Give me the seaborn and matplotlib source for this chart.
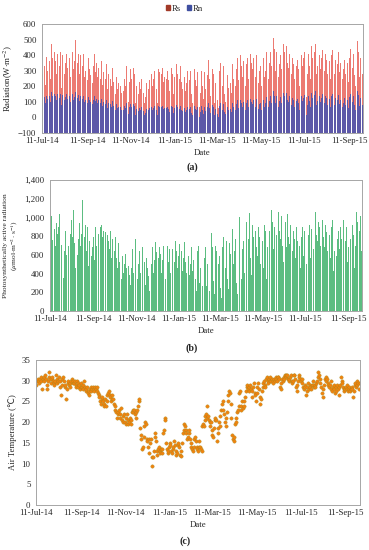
import matplotlib
matplotlib.use("Agg")
import matplotlib.pyplot as plt
import matplotlib.dates as mdates
from matplotlib.patches import Patch
from matplotlib.ticker import FuncFormatter
import numpy as np
import pandas as pd
import seaborn as sns

# Daily series, 11-Jul-2014 .. 30-Sep-2015 (one line per month)
start_date = "2014-07-11"
end_date = "2015-09-30"

rs_values = [
    280, 350, 460, 330, 210, 440, 390, 300, 180, 420, 360, 250, 400, 470, 380, 230, 310, 420, 360, 150, 280,
    410, 380, 260, 330, 420, 300, 190, 400, 360, 430, 280, 350, 490, 410, 320, 200, 450, 380, 260, 340, 470, 420, 310, 230, 360, 500, 380, 290, 350, 410, 330,
    280, 400, 360, 210, 330, 410, 380, 260, 300, 420, 350, 240, 380, 400, 310, 270, 420, 360, 220, 330, 400, 410, 290, 350, 380, 260, 320, 370, 300, 250,
    360, 330, 210, 290, 380, 310, 250, 340, 300, 180, 280, 350, 330, 250, 200, 300, 320, 230, 280, 250, 150, 260, 300, 180, 220, 310, 270, 200, 160, 240, 210,
    170, 250, 120, 200, 330, 290, 180, 100, 230, 340, 310, 250, 150, 220, 320, 280, 180, 90, 200, 300, 260, 150, 230, 120, 180, 250, 200, 110, 160, 90,
    70, 130, 220, 300, 250, 180, 240, 310, 330, 280, 200, 150, 250, 300, 330, 270, 180, 90, 240, 310, 290, 200, 150, 280, 320, 310, 230, 260, 290, 180, 250,
    300, 290, 240, 170, 230, 350, 320, 280, 200, 150, 260, 320, 300, 340, 280, 190, 130, 250, 330, 300, 230, 180, 290, 340, 260, 170, 110, 220, 300, 250, 190,
    240, 300, 260, 150, 90, 180, 280, 310, 240, 130, 200, 290, 230, 120, 70, 160, 250, 300, 200, 120, 220, 290, 180, 90, 230, 270, 370, 300,
    250, 140, 80, 200, 310, 280, 170, 90, 220, 260, 180, 110, 60, 190, 300, 350, 240, 130, 200, 330, 280, 150, 100, 230, 320, 270, 190, 300, 350, 220, 160,
    280, 340, 250, 130, 80, 200, 310, 450, 380, 240, 150, 290, 400, 330, 180, 260, 360, 420, 300, 200, 340, 490, 380, 250, 170, 300, 410, 350, 220, 310,
    380, 300, 180, 260, 400, 440, 350, 220, 300, 390, 330, 200, 280, 410, 380, 260, 150, 300, 420, 460, 380, 250, 350, 480, 420, 330, 290, 400, 510, 440, 360,
    300, 420, 470, 380, 260, 340, 450, 400, 310, 230, 360, 470, 420, 300, 380, 460, 350, 240, 320, 410, 450, 360, 280, 380, 430, 340, 250, 310, 400, 330,
    370, 420, 310, 200, 250, 350, 400, 330, 260, 380, 420, 300, 220, 130, 280, 360, 410, 330, 250, 390, 460, 380, 290, 340, 420, 470, 360, 280, 330, 420, 490,
    400, 310, 260, 380, 430, 350, 220, 300, 410, 440, 370, 280, 330, 420, 360, 250, 310, 400, 430, 340, 190, 280, 370, 330, 260, 340, 420, 380, 290, 350, 400,
    340, 250, 310, 430, 370, 280, 330, 400, 350, 230, 300, 380, 440, 340, 260, 320, 410, 360, 270, 200, 310, 390, 490, 420, 330, 260, 380, 450, 310, 280,
]

rn_values = [
    120, 140, 160, 130, 90, 150, 140, 120, 80, 150, 140, 100, 150, 165, 140, 95, 120, 150, 135, 70, 110,
    150, 140, 100, 125, 150, 115, 80, 145, 135, 155, 110, 130, 165, 150, 120, 85, 155, 140, 100, 125, 160, 150, 115, 90, 130, 165, 140, 110, 125, 145, 120,
    105, 140, 130, 85, 120, 140, 130, 100, 110, 140, 125, 90, 130, 135, 110, 100, 140, 125, 85, 115, 135, 140, 105, 120, 130, 95, 110, 125, 105, 90,
    120, 110, 75, 100, 125, 105, 85, 110, 100, 60, 95, 115, 110, 85, 70, 100, 105, 75, 90, 85, 45, 85, 95, 60, 70, 100, 85, 65, 50, 75, 65,
    50, 75, 30, 60, 95, 85, 50, 25, 65, 95, 85, 70, 40, 60, 85, 75, 50, 15, 55, 80, 70, 40, 60, 30, 45, 65, 50, 25, 40, 15,
    5, 30, 55, 75, 65, 45, 60, 75, 80, 70, 50, 35, 60, 75, 80, 65, 45, 15, 55, 75, 70, 50, 35, 65, 75, 75, 55, 60, 70, 40, 60,
    70, 65, 55, 35, 50, 80, 75, 65, 45, 30, 60, 75, 70, 80, 65, 40, 25, 55, 75, 70, 50, 40, 65, 80, 60, 35, 20, 50, 70, 55, 40,
    55, 70, 60, 30, 15, 40, 65, 75, 55, 25, 45, 70, 55, 25, 5, 35, 60, 75, 45, 25, 50, 70, 40, 15, 55, 65, 95, 75,
    60, 30, 10, 50, 80, 70, 40, 15, 55, 65, 45, 20, 0, 45, 75, 90, 60, 25, 50, 85, 70, 35, 20, 55, 85, 70, 45, 80, 95, 55, 35,
    75, 95, 65, 25, 10, 50, 85, 130, 110, 60, 35, 80, 115, 95, 45, 70, 100, 120, 85, 50, 95, 145, 110, 65, 40, 85, 120, 100, 55, 85,
    110, 85, 45, 70, 120, 135, 100, 55, 85, 115, 95, 50, 80, 125, 115, 70, 30, 90, 130, 145, 115, 65, 105, 155, 135, 95, 80, 125, 170, 140, 110,
    90, 135, 155, 120, 70, 105, 150, 130, 95, 60, 115, 160, 140, 90, 125, 155, 110, 65, 100, 140, 160, 120, 80, 125, 150, 110, 70, 100, 135, 105,
    120, 140, 95, 50, 70, 115, 135, 105, 75, 125, 145, 90, 55, 15, 80, 120, 140, 105, 70, 130, 160, 125, 85, 110, 145, 170, 120, 80, 105, 145, 175,
    140, 100, 75, 125, 150, 115, 55, 90, 140, 155, 125, 80, 105, 145, 120, 70, 95, 135, 150, 110, 45, 80, 125, 105, 75, 110, 145, 130, 85, 115, 135,
    110, 70, 95, 145, 125, 80, 105, 135, 115, 60, 90, 130, 150, 110, 75, 100, 140, 120, 80, 50, 95, 130, 170, 145, 105, 75, 125, 155, 95, 80,
]

par_values = [
    650, 800, 1010, 760, 480, 970, 880, 690, 420, 940, 820, 580, 900, 1040, 860, 530, 710, 950, 820, 350, 640,
    920, 860, 600, 750, 950, 690, 440, 900, 820, 970, 640, 790, 1080, 920, 730, 460, 1010, 860, 600, 770, 1050, 940, 700, 530, 820, 1190, 860, 660, 790, 920, 750,
    640, 900, 820, 480, 750, 920, 860, 590, 680, 940, 790, 550, 860, 900, 700, 620, 940, 820, 500, 750, 900, 920, 660, 790, 860, 590, 730, 840, 680, 570,
    810, 750, 480, 660, 860, 700, 570, 770, 680, 410, 640, 790, 750, 570, 460, 680, 730, 520, 640, 570, 340, 590, 680, 410, 500, 700, 610, 460, 370, 540, 480,
    390, 570, 280, 460, 750, 660, 410, 230, 520, 770, 700, 570, 340, 500, 730, 640, 410, 210, 460, 680, 590, 340, 520, 280, 410, 570, 460, 250, 370, 210,
    160, 300, 500, 680, 570, 410, 550, 700, 740, 630, 460, 340, 570, 680, 750, 610, 410, 210, 550, 700, 660, 460, 340, 630, 720, 700, 520, 590, 660, 410, 570,
    680, 660, 550, 390, 520, 750, 720, 640, 460, 340, 590, 720, 680, 760, 640, 430, 300, 570, 740, 680, 520, 410, 660, 740, 590, 390, 250, 500, 680, 570, 430,
    550, 680, 590, 340, 210, 410, 640, 700, 550, 300, 460, 660, 520, 270, 160, 370, 570, 680, 460, 270, 500, 660, 410, 210, 520, 620, 830, 680,
    570, 320, 180, 460, 700, 640, 390, 210, 500, 590, 410, 250, 140, 430, 680, 790, 550, 300, 460, 750, 640, 340, 230, 520, 730, 610, 430, 680, 880, 500, 360,
    640, 770, 570, 300, 180, 460, 700, 1000, 860, 550, 340, 660, 900, 750, 410, 590, 820, 950, 680, 460, 770, 1050, 860, 570, 390, 680, 920, 790, 500, 700,
    860, 680, 410, 590, 900, 990, 790, 500, 680, 880, 750, 460, 640, 920, 860, 590, 340, 680, 950, 1040, 860, 570, 790, 1080, 950, 750, 660, 900, 1180, 990, 810,
    680, 950, 1060, 860, 590, 770, 1010, 900, 700, 520, 810, 1060, 950, 680, 860, 1040, 790, 550, 720, 920, 1010, 810, 640, 860, 970, 770, 570, 700, 900, 750,
    840, 950, 700, 460, 570, 790, 900, 750, 590, 860, 950, 680, 500, 300, 640, 810, 920, 750, 570, 880, 1040, 860, 660, 770, 950, 1060, 810, 640, 750, 950, 1100,
    900, 700, 590, 860, 970, 790, 500, 680, 920, 990, 840, 640, 750, 950, 810, 570, 700, 900, 970, 770, 430, 640, 840, 750, 590, 770, 950, 860, 660, 790, 900,
    770, 570, 700, 970, 840, 640, 750, 900, 790, 520, 680, 860, 990, 770, 590, 720, 920, 810, 610, 460, 700, 880, 1060, 950, 750, 590, 860, 1010, 700, 640,
]

temp_values = [
    29, 30, 30.5, 30, 29.5, 30.5, 31, 30, 28, 30.5, 30, 31, 31.5, 30.5, 29, 28, 30, 31, 32, 30.5, 29.5,
    30.5, 31, 30, 29.5, 29, 30, 31.5, 30.5, 29.5, 30, 31, 30, 28.5, 26.5, 29, 30.5, 31, 30, 28.5, 29, 25.5, 28, 29.5, 30, 29, 28.5, 29.5, 30, 30.5, 29.5, 30,
    29.5, 30, 29, 28.5, 30, 29.5, 28.5, 29, 28, 28.5, 29.5, 28.5, 28, 29, 30, 28.5, 27.5, 28, 28.5, 27, 26.5, 27.5, 28, 28.5, 27.5, 28, 28.5, 28, 27.5, 28.5,
    28, 28.5, 27.5, 27, 26.5, 26, 25, 24.5, 25.5, 26, 25, 24.5, 24, 25.5, 24, 25, 26.5, 27, 27.5, 26.5, 26, 25, 25.5, 26.5, 25.5, 24.5, 24, 23, 22.5, 21, 22,
    22.5, 23, 21, 22, 23.5, 20.5, 20, 21.5, 22, 20, 19.5, 21, 22, 20.5, 19.5, 20, 21, 19.5, 20.5, 22.5, 23, 22.5, 23, 22, 21, 22.5, 23, 24, 25, 25.5,
    18.5, 17, 16, 13.5, 14, 16.5, 19, 20, 19.5, 16, 15.5, 14, 12.5, 16, 15, 16, 11.5, 9.3, 11.5, 13, 16.5, 17.5, 15.5, 13, 12, 13.5, 14, 13, 12.5, 13.5, 12.5,
    13.5, 17.5, 18, 21, 20.5, 15, 13.5, 12.5, 13, 14, 15, 14.5, 13, 12.5, 13.5, 14, 15.5, 14.5, 13, 12, 12.5, 14.5, 15, 14, 12, 11.8, 13, 15, 17.5, 18, 19.5,
    19, 18, 17.5, 16, 16.5, 17.5, 18, 16, 15, 14, 13.5, 13, 14, 16, 16.5, 15.5, 14, 13.5, 13, 14, 15.5, 14, 13.5, 13, 19, 19.5, 19, 20.5,
    21.5, 22, 21, 24, 21.5, 20.5, 20, 19, 20, 18, 17, 16.5, 18.5, 20.5, 21, 20.5, 15.5, 17.5, 18.5, 20, 19, 21.5, 23, 24.5, 25, 23, 22, 20, 19, 21, 22.5,
    25, 26.5, 27.5, 27, 24.5, 21, 17, 16, 15.5, 16.5, 19.5, 20, 21, 22.5, 23, 24, 27, 27.5, 23, 24, 25, 23.5, 24, 25, 26, 27.5, 28.5, 29, 28, 27.5,
    28.5, 29, 28, 27.5, 26, 28.5, 29.5, 27, 26.5, 25, 27, 28.5, 29.5, 28, 26, 24.5, 25.5, 27.5, 28.5, 29.5, 30, 29, 28.5, 30.5, 31, 30, 29.5, 30.5, 30, 31, 30,
    30.5, 30, 29.5, 30.5, 30, 31, 30.5, 30, 31, 31, 30.5, 28.5, 28, 29.5, 30.5, 30, 31, 30.5, 31.5, 31, 31.5, 31.5, 30.5, 30, 30.5, 31, 31.5, 30, 29.5, 30,
    31.5, 31.5, 30.5, 28.5, 27.5, 29, 30, 31.5, 31, 30.5, 30, 30.5, 29.5, 28.5, 28, 29, 28.5, 26.5, 27.5, 28.5, 29.5, 28, 29, 28.5, 28, 29, 30, 29, 28.5, 29, 28.5,
    29.5, 30, 31, 32, 31.5, 30.5, 29.5, 28.5, 27, 26, 28, 29, 30.5, 30, 31, 30.5, 29.5, 29, 28.5, 29, 30, 28, 27.5, 28.5, 29, 28, 27, 27.5, 28.5, 29, 28,
    26.5, 28.5, 29, 31, 30, 29.5, 28.5, 28, 27.5, 28, 28.5, 29, 28, 27.5, 28, 28.5, 27.5, 28, 28.5, 28, 26, 27.5, 29, 29.5, 28.5, 29, 30, 29.5, 28, 29.5,
]

tick_dates = ["2014-07-11", "2014-09-11", "2014-11-11", "2015-01-11",
              "2015-03-11", "2015-05-11", "2015-07-11", "2015-09-11"]

sns.set_theme(style="white")
plt.rcParams["font.family"] = ["Liberation Serif", "DejaVu Sans"]
plt.rcParams["mathtext.fontset"] = "stix"

dates = pd.date_range(start_date, end_date, freq="D")
df = pd.DataFrame({"Date": dates, "Rs": rs_values, "Rn": rn_values,
                   "PAR": par_values, "Temp": temp_values})

FS = 6.3
SPINE = "#A6A6A6"
TXT = "#262626"
xlim = (dates[0] - pd.Timedelta(hours=12), dates[-1] + pd.Timedelta(hours=12))
ticks = pd.to_datetime(tick_dates)

fig = plt.figure(figsize=(3.69, 5.5), dpi=100)


def style_axis(ax):
    """Excel-like box, ticks and date labels."""
    for sp in ax.spines.values():
        sp.set_color(SPINE)
        sp.set_linewidth(0.7)
    ax.set_xlim(*xlim)
    ax.set_xticks(ticks)
    ax.xaxis.set_major_formatter(mdates.DateFormatter("%d-%b-%y"))
    ax.tick_params(axis="x", direction="in", length=2.5, width=0.6,
                   color=SPINE, labelsize=FS, labelcolor=TXT, pad=3)
    ax.tick_params(axis="y", direction="out", length=2, width=0.6,
                   color=SPINE, labelsize=FS, labelcolor=TXT, pad=2)
    ax.set_xlabel("Date", fontsize=FS, color=TXT, labelpad=2.5)


# (a) Rs and Rn, bars start at the -100 axis line
ax1 = fig.add_axes([42 / 369, 1 - 133 / 550, 321 / 369, 109 / 550])
base = -100
ax1.bar(df["Date"], df["Rs"] - base, bottom=base, width=0.8,
        color="#EC7A72", linewidth=0)
ax1.bar(df["Date"], df["Rn"] - base, bottom=base, width=0.8,
        color="#5D58A8", linewidth=0)
ax1.set_ylim(-100, 600)
ax1.set_yticks(np.arange(-100, 601, 100))
ax1.set_ylabel(r"Radiation(W$\cdot$m$^{-2}$)", fontsize=FS, color=TXT,
               labelpad=2)
style_axis(ax1)
handles = [Patch(color="#A23A28", label="Rs"),
           Patch(color="#3F4FA0", label="Rn")]
fig.legend(handles=handles, loc="center", bbox_to_anchor=(0.5, 1 - 9 / 550),
           ncol=2, frameon=False, fontsize=FS, handlelength=0.5,
           handleheight=0.5, handletextpad=0.2, columnspacing=0.6)
fig.text(192 / 369, 1 - 167 / 550, "(a)", fontsize=7.2, fontweight="bold",
         ha="center", va="center", color=TXT)

# (b) PAR
ax2 = fig.add_axes([50 / 369, 1 - 311 / 550, 312 / 369, 131 / 550])
ax2.bar(df["Date"], df["PAR"], width=0.8, color="#5CBD81", linewidth=0)
ax2.set_ylim(0, 1400)
ax2.set_yticks(np.arange(0, 1401, 200))
ax2.yaxis.set_major_formatter(FuncFormatter(lambda v, p: f"{v:,.0f}"))
ax2.set_ylabel("Photosynthetically active radiation\n"
               r"($\mu$mol$\cdot$m$^{-2}\cdot$s$^{-1}$)",
               fontsize=5.4, color=TXT, labelpad=3, linespacing=1.15)
style_axis(ax2)
fig.text(192 / 369, 1 - 348 / 550, "(b)", fontsize=7.2, fontweight="bold",
         ha="center", va="center", color=TXT)

# (c) Air temperature
ax3 = fig.add_axes([36 / 369, 1 - 505 / 550, 324 / 369, 145 / 550])
sns.scatterplot(data=df, x="Date", y="Temp", ax=ax3, s=6,
                color="#F0820F", edgecolor="#A88A1A", linewidth=0.25,
                legend=False)
ax3.set_ylim(0, 35)
ax3.set_yticks(np.arange(0, 36, 5))
ax3.set_ylabel("Air Temperature (℃)", fontsize=FS, color=TXT, labelpad=3)
style_axis(ax3)
fig.text(185 / 369, 1 - 541 / 550, "(c)", fontsize=7.2, fontweight="bold",
         ha="center", va="center", color=TXT)

fig.savefig("out.png", dpi=100)
